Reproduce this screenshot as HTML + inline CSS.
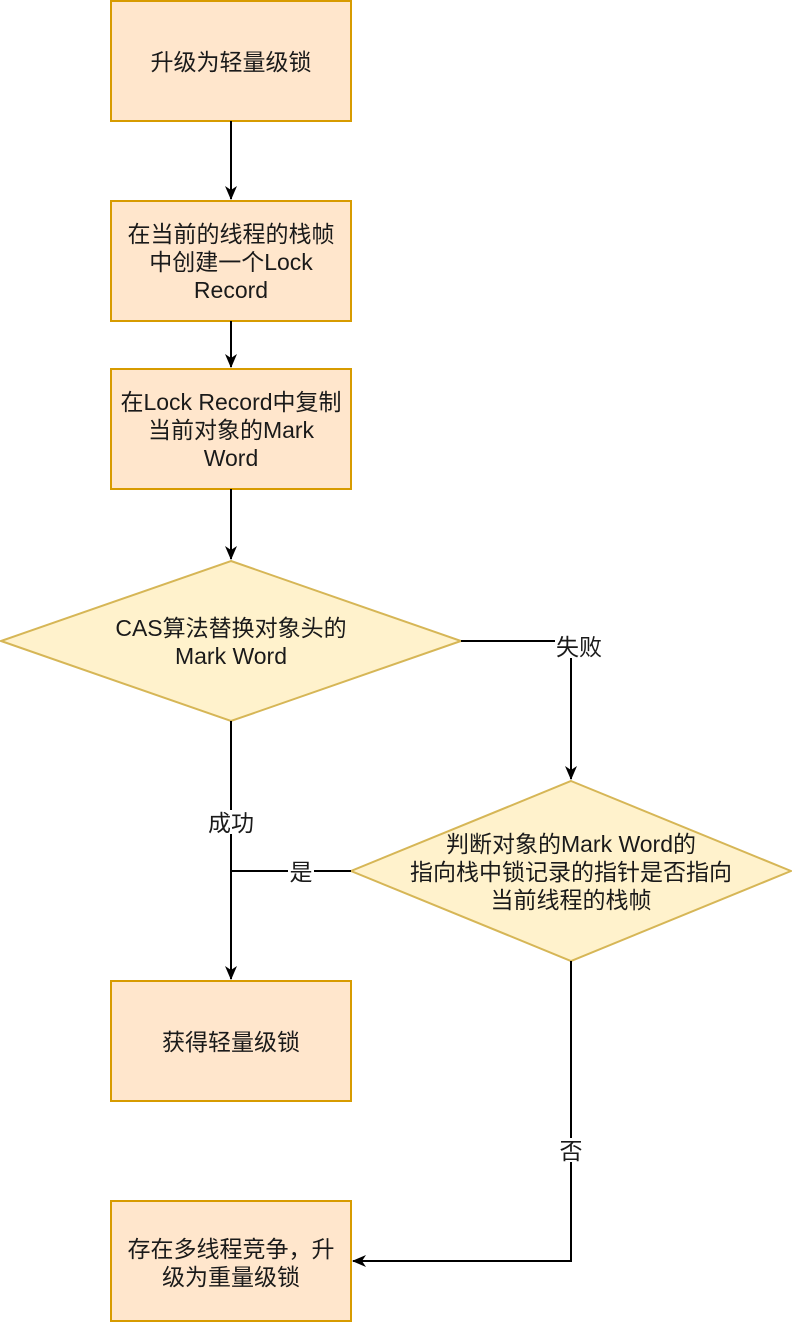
<!DOCTYPE html>
<html><head><meta charset="utf-8"><style>
body{margin:0;background:#fff;}
svg text{font-family:"Liberation Sans","Noto Sans CJK SC",sans-serif;font-size:23px;fill:#1a1a1a;text-anchor:middle;}
</style></head><body>
<svg width="792" height="1322" viewBox="0 0 792 1322" xmlns="http://www.w3.org/2000/svg">
<defs><marker id="a" markerWidth="14" markerHeight="14" refX="13" refY="7" orient="auto" markerUnits="userSpaceOnUse"><path d="M0,1 L14,7 L0,13 L4,7 z" fill="#000"/></marker></defs>
<g fill="#ffe6cc" stroke="#d79b00" stroke-width="2">
<rect x="111" y="1" width="240" height="120"/>
<rect x="111" y="201" width="240" height="120"/>
<rect x="111" y="369" width="240" height="120"/>
<rect x="111" y="981" width="240" height="120"/>
<rect x="111" y="1201" width="240" height="120"/>
</g>
<g fill="#fff2cc" stroke="#d6b656" stroke-width="2">
<polygon points="231,561 461,641 231,721 1,641"/>
<polygon points="571,781 791,871 571,961 351,871"/>
</g>
<g stroke="#000" stroke-width="2" fill="none">
<line x1="231" y1="121" x2="231" y2="199" marker-end="url(#a)"/>
<line x1="231" y1="321" x2="231" y2="367" marker-end="url(#a)"/>
<line x1="231" y1="489" x2="231" y2="559" marker-end="url(#a)"/>
<line x1="231" y1="721" x2="231" y2="979" marker-end="url(#a)"/>
<polyline points="461,641 571,641 571,779" marker-end="url(#a)"/>
<line x1="351" y1="871" x2="231" y2="871"/>
<polyline points="571,961 571,1261 353,1261" marker-end="url(#a)"/>
</g>
<g fill="#fff">
<rect x="205" y="810" width="52" height="24"/>
<rect x="288" y="860" width="26" height="22"/>
<rect x="555" y="634" width="48" height="24"/>
<rect x="559" y="1138" width="24" height="24"/>
</g>
<text x="231" y="70">升级为轻量级锁</text>
<text x="231" y="242">在当前的线程的栈帧</text>
<text x="231" y="270">中创建一个Lock</text>
<text x="231" y="298">Record</text>
<text x="231" y="410">在Lock Record中复制</text>
<text x="231" y="438">当前对象的Mark</text>
<text x="231" y="466">Word</text>
<text x="231" y="636">CAS算法替换对象头的</text>
<text x="231" y="664">Mark Word</text>
<text x="571" y="852">判断对象的Mark Word的</text>
<text x="571" y="880">指向栈中锁记录的指针是否指向</text>
<text x="571" y="908">当前线程的栈帧</text>
<text x="231" y="1050">获得轻量级锁</text>
<text x="231" y="1257">存在多线程竞争，升</text>
<text x="231" y="1285">级为重量级锁</text>
<text x="231" y="831">成功</text>
<text x="301" y="880">是</text>
<text x="579" y="655">失败</text>
<text x="571" y="1159">否</text>
</svg>
</body></html>
